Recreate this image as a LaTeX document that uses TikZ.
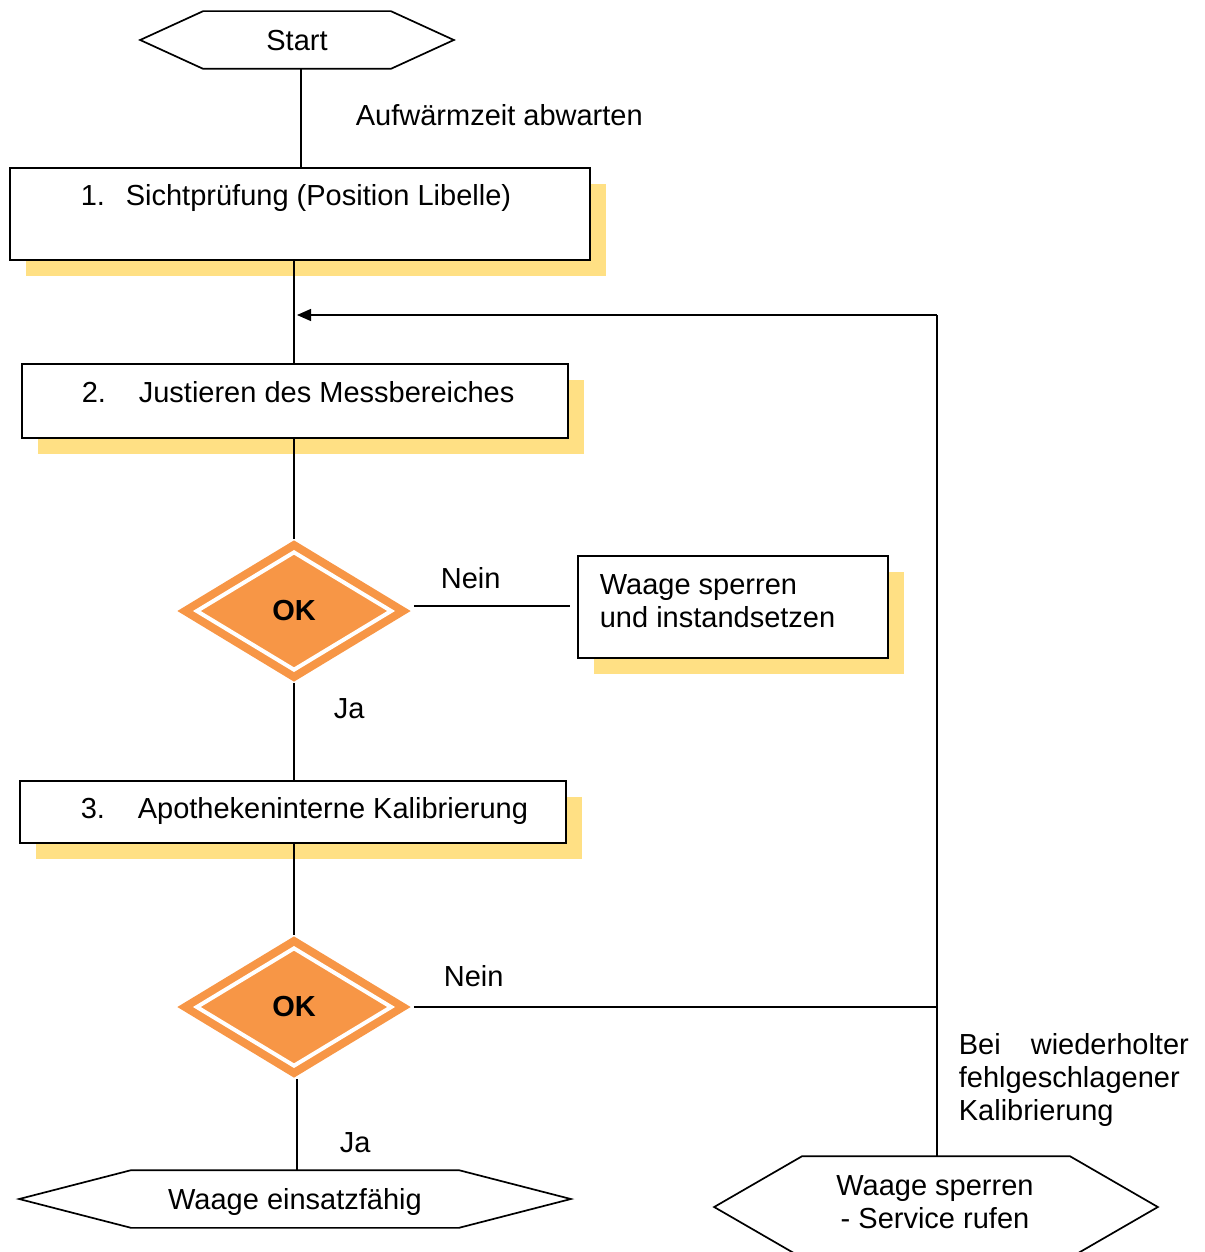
\documentclass[tikz,border=0pt]{standalone}
\usepackage{fontspec}
\setmainfont{Liberation Sans}
\usetikzlibrary{shapes.geometric,arrows.meta}
\definecolor{shadowy}{HTML}{FFE084}
\definecolor{okorange}{HTML}{F79646}
\begin{document}
\begin{tikzpicture}[x=1pt,y=-1pt,line width=1.7pt,
  every node/.style={font=\fontsize{29}{33}\selectfont, inner sep=0pt},
  box/.style={draw, fill=white, rectangle},
  hexbox/.style={rectangle, draw=none, text height=21pt, text depth=0pt},
  txt/.style={anchor=base west},
  okdia/.style={diamond, fill=okorange, minimum width=234pt, minimum height=142pt},
  okin/.style={diamond, draw=white, line width=4pt, minimum width=196pt, minimum height=119pt,
    font=\fontsize{29}{33}\selectfont\bfseries}]
\useasboundingbox (0,0) rectangle (1204,1252);

% shadows
\fill[shadowy] (26,184) rectangle (606,276);
\fill[shadowy] (38,380) rectangle (584,454);
\fill[shadowy] (594,572) rectangle (904,674);
\fill[shadowy] (36,797) rectangle (582,859);

% hexagons
\node[hexbox, minimum width=312pt, minimum height=56pt] (start) at (297,40) {Start};
\draw (start.west) -- ([xshift=63pt]start.north west) -- ([xshift=-63pt]start.north east)
  -- (start.east) -- ([xshift=-63pt]start.south east) -- ([xshift=63pt]start.south west) -- cycle;

\node[hexbox, minimum width=550pt, minimum height=56pt] (end1) at (295,1199) {Waage einsatzfähig};
\draw (end1.west) -- ([xshift=112pt]end1.north west) -- ([xshift=-112pt]end1.north east)
  -- (end1.east) -- ([xshift=-112pt]end1.south east) -- ([xshift=112pt]end1.south west) -- cycle;

\node[rectangle, minimum width=442pt, minimum height=100pt] (ws2) at (936,1207) {};
\draw (ws2.west) -- ([xshift=88pt]ws2.north west) -- ([xshift=-88pt]ws2.north east)
  -- (ws2.east) -- ([xshift=-88pt]ws2.south east) -- ([xshift=88pt]ws2.south west) -- cycle;
\node[anchor=north, align=center] (ws2t) at (935,1174.5) {Waage sperren\\- Service rufen};

% boxes
\node[box, minimum width=580pt, minimum height=92pt] (b1) at (300,214) {};
\node[txt] (b1t) at (80,205) {\makebox[45pt][l]{1.}Sichtprüfung (Position Libelle)};

\node[box, minimum width=546pt, minimum height=74pt] (b2) at (295,401) {};
\node[txt] (b2t) at (81,402) {\makebox[57pt][l]{2.}Justieren des Messbereiches};

\node[box, minimum width=546pt, minimum height=62pt] (b3) at (293,812) {};
\node[txt] (b3t) at (80,818) {\makebox[57pt][l]{3.}Apothekeninterne Kalibrierung};

\node[box, minimum width=310pt, minimum height=102pt] (bw) at (733,607) {};
\node[anchor=north west, align=left] (bwt) at (599,573.2) {Waage sperren\\und instandsetzen};

% decisions
\node[okdia] (d1) at (294,611) {};
\node[okin] (d1i) at (294,611) {OK};
\node[okdia] (d2) at (294,1007) {};
\node[okin] (d2i) at (294,1007) {OK};

% labels
\node[txt] (aufw) at (355,126) {Aufwärmzeit abwarten};
\node[txt] (nein1) at (440,588) {Nein};
\node[txt] (ja1) at (333,718) {Ja};
\node[txt] (nein2) at (443,986) {Nein};
\node[txt] (ja2) at (339,1152) {Ja};
\node[anchor=north west, text width=230pt, align=left] (bei) at (958,1032.2)
  {Bei\hfill wiederholter\\fehlgeschlagener\\Kalibrierung};

% connectors
\draw ([xshift=4pt]start.south) -- ([xshift=4pt]start.south |- b1.north);
\draw (b1.south -| d1.north) -- (b2.north -| d1.north);
\draw (b2.south -| d1.north) -- (d1.north);
\draw[shorten <=2pt, shorten >=7pt] ([yshift=5pt]d1.east) -- ([yshift=5pt]d1.east -| bw.west);
\draw (d1.south) -- (b3.north -| d1.south);
\draw (b3.south -| d2.north) -- (d2.north);
\draw ([xshift=3pt]d2.south) -- ([xshift=3pt]d2.south |- end1.north);
\coordinate (j1) at (937,315);
\coordinate (j2) at (937,1007);
\coordinate (ret) at (297,315);
\draw[shorten <=2pt] (d2.east) -- (j2);
\draw (ws2.north -| j1) -- (j1);
\draw[line width=1.4pt, -{Triangle[length=14pt,width=12pt]}] (j1) -- (ret);
\end{tikzpicture}
\end{document}
